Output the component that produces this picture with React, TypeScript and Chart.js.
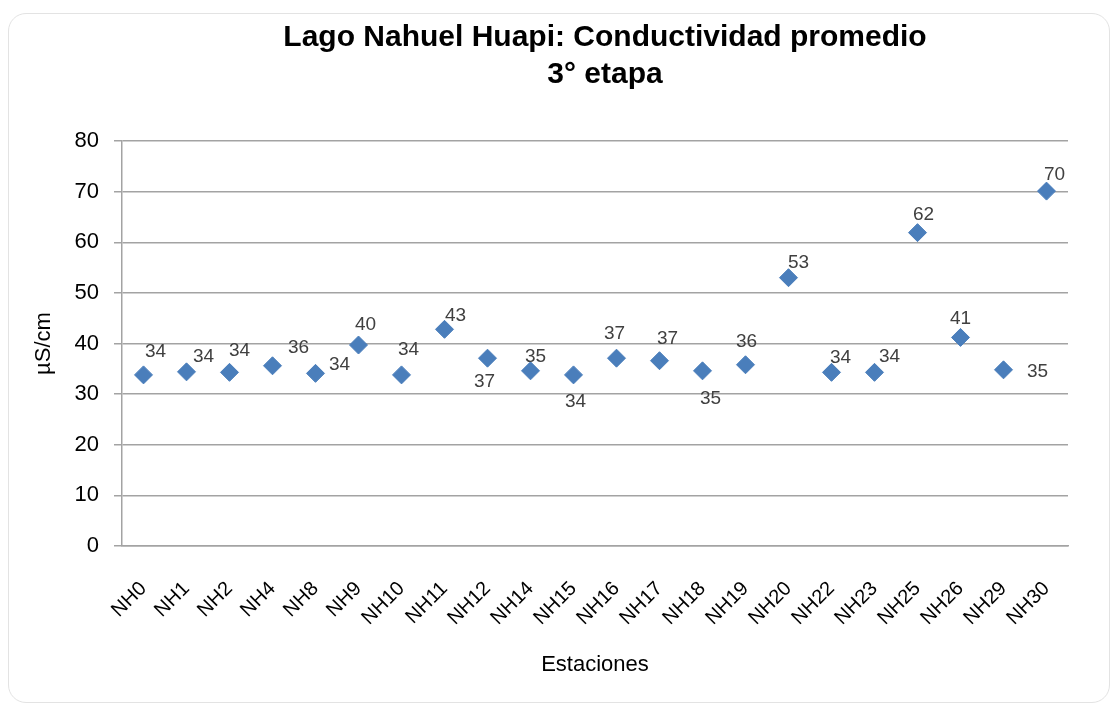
import React, { useEffect, useRef } from 'react';
import { Chart, registerables } from 'chart.js';

Chart.register(...registerables);

const stations = ['NH0', 'NH1', 'NH2', 'NH4', 'NH8', 'NH9', 'NH10', 'NH11', 'NH12', 'NH14', 'NH15', 'NH16', 'NH17', 'NH18', 'NH19', 'NH20', 'NH22', 'NH23', 'NH25', 'NH26', 'NH29', 'NH30'];
const conductivity = [33.8, 34.4, 34.3, 35.6, 34.1, 39.7, 33.8, 42.8, 37.1, 34.6, 33.8, 37.1, 36.6, 34.6, 35.8, 53.0, 34.3, 34.3, 61.9, 41.2, 34.8, 70.1];
const yMin = 0;
const yMax = 80;
const yStep = 10;
const titleLines = ['Lago Nahuel Huapi: Conductividad promedio', '3° etapa'];
const xTitle = 'Estaciones';
const yTitle = 'µS/cm';

// label nudges relative to each marker (styling only)
const labelNudge: [number, number][] = [
  [12, -23], [17, -15], [10, -22], [26, -18], [24, -9], [7, -20], [7, -25], [11, -14],
  [-3, 24], [5, -14], [2, 27], [-2, -24], [8, -22], [8, 28], [1, -23], [10, -15],
  [9, -15], [15, -16], [6, -18], [0, -19], [34, 2], [8, -16],
];

const FONT = '"Liberation Sans", Arial, sans-serif';
const GRID = '#a3a3a3';
const BLUE = '#4A7EBB';

const pointLabelPlugin = {
  id: 'pointLabelPlugin',
  afterDatasetsDraw(chart: any) {
    const ctx = chart.ctx;
    const meta = chart.getDatasetMeta(0);
    ctx.save();
    ctx.font = `19px ${FONT}`;
    ctx.fillStyle = '#404040';
    ctx.textAlign = 'center';
    ctx.textBaseline = 'middle';
    meta.data.forEach((pt: any, i: number) => {
      const [dx, dy] = labelNudge[i] || [10, -18];
      ctx.fillText(String(Math.round(conductivity[i])), pt.x + dx, pt.y + dy);
    });
    ctx.restore();
  },
};

const titlePlugin = {
  id: 'titlePlugin',
  afterDraw(chart: any) {
    const ctx = chart.ctx;
    const area = chart.chartArea;
    const cx = (area.left + area.right) / 2 + 10;
    ctx.save();
    ctx.font = `bold 30px ${FONT}`;
    ctx.fillStyle = '#000';
    ctx.textAlign = 'center';
    ctx.textBaseline = 'middle';
    titleLines.forEach((line, i) => {
      ctx.fillText(line, cx, 24 + i * 37);
    });
    ctx.restore();
  },
};

export default function App() {
  const ref = useRef<HTMLCanvasElement | null>(null);

  useEffect(() => {
    if (!ref.current) return;
    const chart = new Chart(ref.current, {
      type: 'line',
      data: {
        labels: stations,
        datasets: [
          {
            data: conductivity,
            showLine: false,
            pointStyle: 'rectRot',
            pointRadius: 9,
            pointHoverRadius: 9,
            backgroundColor: BLUE,
            borderColor: BLUE,
            pointBorderWidth: 1,
          },
        ],
      },
      options: {
        responsive: false,
        animation: false,
        layout: { padding: { left: 0, right: 41, top: 127, bottom: 0 } },
        plugins: {
          legend: { display: false },
          tooltip: { enabled: false },
          title: { display: false },
        },
        scales: {
          x: {
            type: 'category',
            offset: true,
            grid: { display: false },
            border: { display: true, color: GRID, width: 1.5 },
            ticks: {
              minRotation: 45,
              maxRotation: 45,
              autoSkip: false,
              color: '#000',
              padding: 23,
              font: { family: FONT, size: 20 },
            },
            title: {
              display: true,
              text: xTitle,
              color: '#000',
              font: { family: FONT, size: 22 },
              padding: { top: 0, bottom: 24 },
            },
            afterFit(scale: any) {
              scale.height = 156;
            },
          },
          y: {
            min: yMin,
            max: yMax,
            ticks: {
              stepSize: yStep,
              color: '#000',
              padding: 15,
              font: { family: FONT, size: 22 },
            },
            grid: { color: GRID, lineWidth: 1.5, tickLength: 8 },
            border: { display: true, color: GRID, width: 1.5 },
            title: {
              display: true,
              text: yTitle,
              color: '#000',
              font: { family: FONT, size: 22 },
              padding: { top: 22, bottom: 0 },
            },
            afterFit(scale: any) {
              scale.width = 113;
            },
          },
        },
      },
      plugins: [pointLabelPlugin, titlePlugin],
    } as any);
    return () => chart.destroy();
  }, []);

  return (
    <div
      style={{
        position: 'absolute',
        left: 8,
        top: 13,
        width: 1100,
        height: 688,
        border: '1px solid #e3e3e3',
        borderRadius: 18,
        background: '#fff',
        overflow: 'hidden',
      }}
    >
      <canvas ref={ref} width={1100} height={688} style={{ display: 'block' }} />
    </div>
  );
}
